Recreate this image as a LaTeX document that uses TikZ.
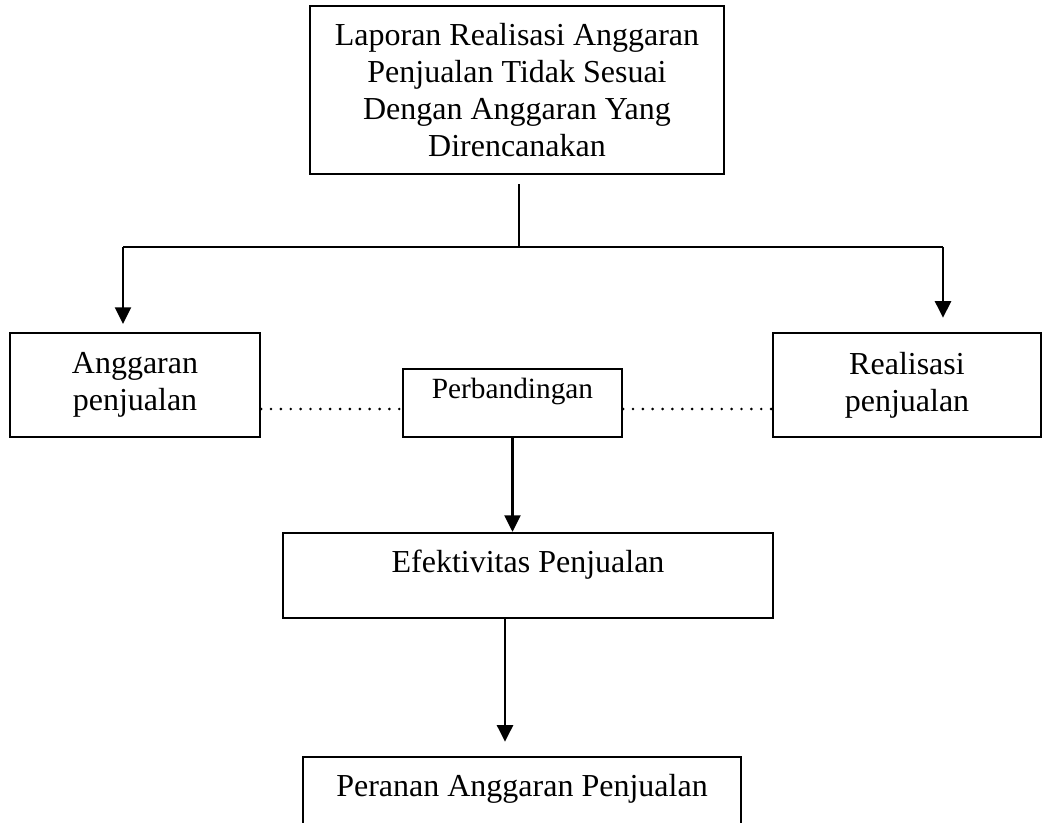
\documentclass[tikz,border=0pt]{standalone}
\usepackage{fontspec}
\setmainfont{Liberation Serif}
\usetikzlibrary{arrows.meta,calc}

\tikzset{
  box/.style={draw, line width=0.85pt, align=center, inner sep=0pt,
    font=\fontsize{12}{13.8}\selectfont},
  arr/.style={line width=0.85pt, -{Triangle[length=6.2pt,width=6pt]}},
  link/.style={line width=0.85pt},
  dots/.style={line width=1.1pt, line cap=round, dash pattern=on 0pt off 3.7pt}
}

\begin{document}
\begin{tikzpicture}[x=0.375pt,y=-0.375pt]
        \clip (0,0) rectangle (1042,823);
        % Boxes
        \node[box, minimum width=155.25pt, minimum height=63pt] (lap) at (517,90)
          {Laporan Realisasi Anggaran\\Penjualan Tidak Sesuai\\Dengan Anggaran Yang\\Direncanakan};
        \node[box, minimum width=93.75pt, minimum height=39pt] (ang) at (135,385) {Anggaran\\penjualan};
        \node[box, minimum width=100.5pt, minimum height=39pt] (real) at (907,385) {Realisasi\\penjualan};
        \node[box, minimum width=82.1pt, minimum height=25.5pt, text height=8pt, text depth=11.3pt,
          font=\fontsize{11}{13}\selectfont] (band) at (512.5,403) {Perbandingan};
        \node[box, minimum width=183.75pt, minimum height=31.9pt, text height=8.5pt, text depth=10.4pt]
          (efek) at (528,575.5) {Efektivitas Penjualan};
        \node[box, minimum width=164.25pt, minimum height=31.9pt, text height=8.5pt, text depth=10.4pt]
          (per) at (522,799.5) {Peranan Anggaran Penjualan};

        % Branch to the two sides
        \coordinate (split) at (519,247);
        \coordinate (splitL) at (123,247);
        \coordinate (splitR) at (943,247);
        \draw[link, shorten <=3.4pt] (lap.south -| split) -- (split);
        \draw[link] (splitL) -- (splitR);
        \draw[arr, shorten >=3pt] (splitL) -- (ang.north -| splitL);
        \draw[arr, shorten >=5.3pt] (splitR) -- (real.north -| splitR);

        % Comparison
        \draw[dots] ($(ang.east)+(0,24)$) -- ($(band.west)+(0,6)$);
        \draw[dots] ($(band.east)+(0,6)$) -- ($(real.west)+(0,24)$);
        \draw[arr] (band.south) -- (band.south |- efek.north);
        \draw[arr, shorten >=5.3pt] ($(efek.south)+(-23,0)$) -- ($(per.north)+(-17,0)$);
    \end{tikzpicture}
\end{document}
